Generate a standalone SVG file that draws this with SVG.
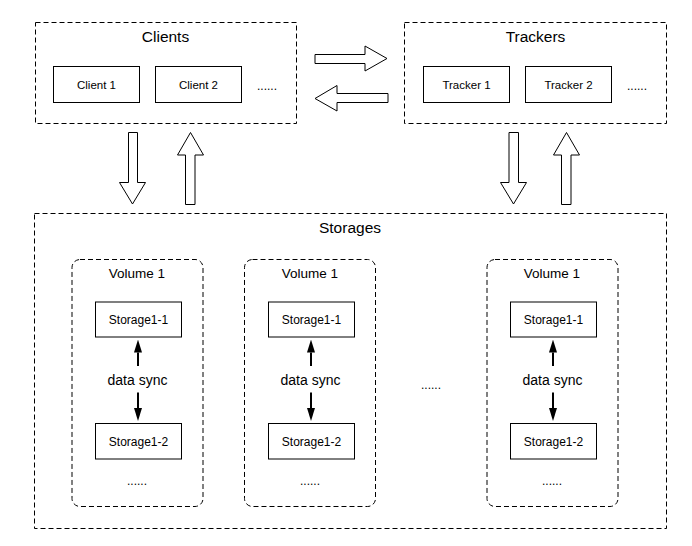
<svg xmlns="http://www.w3.org/2000/svg" width="692" height="546" viewBox="0 0 692 546">
<style>
text{font-family:"Liberation Sans",Arial,Helvetica,sans-serif;fill:#000;text-anchor:middle}
.group{fill:none;stroke:#000;stroke-width:1;stroke-dasharray:5 3}
.box{fill:#fff;stroke:#000;stroke-width:1}
.title{font-size:15.5px}
.vol{font-size:13.5px}
.lbl{font-size:11.5px}
.slbl{font-size:12px}
.sync{font-size:14px}
.dots{font-size:12px}
.block{fill:#fff;stroke:#000;stroke-width:1;stroke-linejoin:miter}
.sync-line{stroke:#000;stroke-width:2;fill:none;marker-end:url(#head)}
</style>
<defs>
<marker id="head" markerUnits="userSpaceOnUse" markerWidth="13" markerHeight="8" refX="0" refY="4" orient="auto" viewBox="0 0 13 8">
<path d="M0,0 L13,4 L0,8 z" fill="#000"/>
</marker>
</defs>
<rect width="692" height="546" fill="#fff"/>

<g id="clients">
<rect class="group" x="35.5" y="22.5" width="261" height="101"/>
<text class="title" x="165.5" y="41.5">Clients</text>
</g>
<g id="client1">
<rect class="box" x="53.5" y="66.5" width="86" height="36"/>
<text class="lbl" x="96.5" y="88.5">Client 1</text>
</g>
<g id="client2">
<rect class="box" x="155.5" y="66.5" width="86" height="36"/>
<text class="lbl" x="198.5" y="88.5">Client 2</text>
</g>
<text class="dots" x="267" y="90">......</text>

<g id="trackers">
<rect class="group" x="404.5" y="22.5" width="262" height="101"/>
<text class="title" x="535.5" y="41.5">Trackers</text>
</g>
<g id="tracker1">
<rect class="box" x="423.5" y="66.5" width="86" height="36"/>
<text class="lbl" x="466.5" y="88.5">Tracker 1</text>
</g>
<g id="tracker2">
<rect class="box" x="525.5" y="66.5" width="86" height="36"/>
<text class="lbl" x="568.5" y="88.5">Tracker 2</text>
</g>
<text class="dots" x="637" y="90">......</text>

<g id="storages">
<rect class="group" x="34.5" y="213.5" width="632" height="315"/>
<text class="title" x="350" y="232.5">Storages</text>
</g>

<g id="volume1">
<rect class="group" x="72" y="259.5" width="131" height="247" rx="8"/>
<text class="vol" x="137" y="277.5">Volume 1</text>
<text class="dots" x="137" y="485">......</text>
</g>
<g id="v1-storage1-1">
<rect class="box" x="95.5" y="302" width="86" height="35"/>
<text class="slbl" x="138.5" y="323.5">Storage1-1</text>
</g>
<g id="v1-storage1-2">
<rect class="box" x="95.5" y="423.5" width="86" height="35.5"/>
<text class="slbl" x="138.5" y="445.5">Storage1-2</text>
</g>

<g id="volume2">
<rect class="group" x="244.5" y="259.5" width="131" height="247" rx="8"/>
<text class="vol" x="310" y="277.5">Volume 1</text>
<text class="dots" x="310" y="485">......</text>
</g>
<g id="v2-storage1-1">
<rect class="box" x="268.5" y="302" width="86" height="35"/>
<text class="slbl" x="311.5" y="323.5">Storage1-1</text>
</g>
<g id="v2-storage1-2">
<rect class="box" x="268.5" y="423.5" width="86" height="35.5"/>
<text class="slbl" x="311.5" y="445.5">Storage1-2</text>
</g>

<text class="dots" x="431" y="388.5">......</text>

<g id="volume3">
<rect class="group" x="487" y="259.5" width="131" height="247" rx="8"/>
<text class="vol" x="552" y="277.5">Volume 1</text>
<text class="dots" x="552" y="485">......</text>
</g>
<g id="v3-storage1-1">
<rect class="box" x="510.5" y="302" width="86" height="35"/>
<text class="slbl" x="553.5" y="323.5">Storage1-1</text>
</g>
<g id="v3-storage1-2">
<rect class="box" x="510.5" y="423.5" width="86" height="35.5"/>
<text class="slbl" x="553.5" y="445.5">Storage1-2</text>
</g>

<g id="connectors">
<polygon class="block" points="315,54.5 365,54.5 365,46 387,58.5 365,71 365,63.5 315,63.5"/>
<polygon class="block" points="388,93.5 337,93.5 337,85.5 315,98.5 337,111 337,102.5 388,102.5"/>
<polygon class="block" points="128.5,132.5 137.5,132.5 137.5,182.5 145.5,182.5 132.5,204 119.5,182.5 128.5,182.5"/>
<polygon class="block" points="185.5,204.5 195,204.5 195,155 203.5,155 190.5,132.5 177.5,155 185.5,155"/>
<polygon class="block" points="509,132.5 518.5,132.5 518.5,182.5 526.5,182.5 513.5,204 500.5,182.5 509,182.5"/>
<polygon class="block" points="561.5,204.5 571,204.5 571,155 579.5,155 566.5,132.5 553.5,155 561.5,155"/>

<line class="sync-line" x1="138" y1="366" x2="138" y2="352.5"/>
<line class="sync-line" x1="138" y1="392.5" x2="138" y2="408"/>
<text class="sync" x="137.5" y="384.5">data sync</text>
<line class="sync-line" x1="311" y1="366" x2="311" y2="352.5"/>
<line class="sync-line" x1="311" y1="392.5" x2="311" y2="408"/>
<text class="sync" x="310.5" y="384.5">data sync</text>
<line class="sync-line" x1="553" y1="366" x2="553" y2="352.5"/>
<line class="sync-line" x1="553" y1="392.5" x2="553" y2="408"/>
<text class="sync" x="552.5" y="384.5">data sync</text>
</g>
</svg>
